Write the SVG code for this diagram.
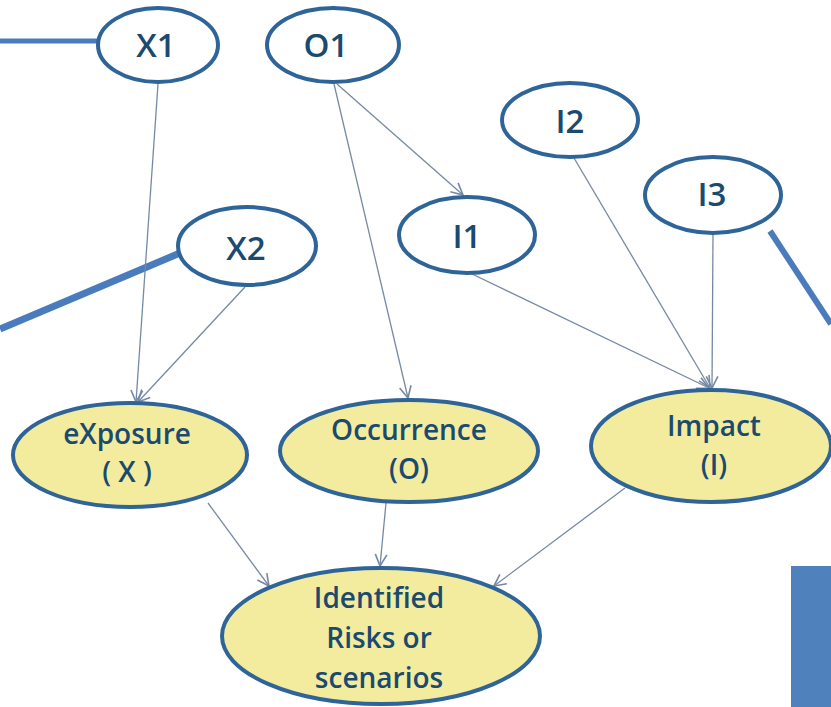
<svg xmlns="http://www.w3.org/2000/svg" width="831" height="707" viewBox="0 0 831 707">
  <style>
    .top ellipse { fill: #ffffff; stroke: #2e6498; stroke-width: 4; }
    .mid ellipse { fill: #f3ec9f; stroke: #2e6498; stroke-width: 4; }
    .lbl { font-family: "Open Sans", "Liberation Sans", sans-serif; font-weight: 600; fill: #1b4a6f; text-anchor: middle; }
    .big { font-size: 33px; }
    .small { font-size: 28px; }
    .edge { stroke: #7689a4; stroke-width: 1.3; fill: none; marker-end: url(#open); }
    .thick { stroke: #4a7cbd; fill: none; }
  </style>
  <defs>
    <marker id="open" viewBox="0 0 12 12" refX="11" refY="6" markerWidth="14" markerHeight="14" markerUnits="userSpaceOnUse" orient="auto">
      <path d="M1,1 L11,6 L1,11" fill="none" stroke="#7689a4" stroke-width="1.4"/>
    </marker>
  </defs>

  <rect width="831" height="707" fill="#ffffff"/>

  <!-- heavy side strokes and block -->
  <g id="decor">
    <line class="thick" x1="0" y1="41" x2="98" y2="41" stroke-width="5"/>
    <line class="thick" x1="180" y1="253" x2="0" y2="329" stroke-width="7"/>
    <line class="thick" x1="770" y1="231" x2="831" y2="324" stroke-width="6"/>
    <rect x="791" y="566" width="40" height="141" fill="#4f81bd"/>
  </g>

  <g id="connectors">
    <line class="edge" x1="158" y1="84" x2="136" y2="402"/>
    <line class="edge" x1="245" y1="287" x2="138" y2="402"/>
    <line class="edge" x1="334" y1="84" x2="408" y2="398"/>
    <line class="edge" x1="337" y1="84" x2="463" y2="195"/>
    <line class="edge" x1="574" y1="158" x2="710" y2="388"/>
    <line class="edge" x1="713" y1="234" x2="712" y2="388"/>
    <line class="edge" x1="470" y1="273" x2="709" y2="388"/>
    <line class="edge" x1="208" y1="503" x2="269" y2="586"/>
    <line class="edge" x1="386" y1="503" x2="380" y2="566"/>
    <line class="edge" x1="625" y1="488" x2="494" y2="586"/>
  </g>

  <g id="X1" class="top">
    <ellipse cx="158" cy="45" rx="60" ry="37"/>
    <text class="lbl big" x="156" y="57">X1</text>
  </g>
  <g id="O1" class="top">
    <ellipse cx="333" cy="45" rx="66" ry="37"/>
    <text class="lbl big" x="326" y="57">O1</text>
  </g>
  <g id="I2" class="top">
    <ellipse cx="570" cy="120" rx="68" ry="37"/>
    <text class="lbl big" x="570" y="133">I2</text>
  </g>
  <g id="I3" class="top">
    <ellipse cx="713" cy="195" rx="68" ry="38"/>
    <text class="lbl big" x="712" y="206">I3</text>
  </g>
  <g id="I1" class="top">
    <ellipse cx="467" cy="235" rx="68" ry="38"/>
    <text class="lbl big" x="467" y="248">I1</text>
  </g>
  <g id="X2" class="top">
    <ellipse cx="247" cy="246" rx="69" ry="39"/>
    <text class="lbl big" x="246" y="260">X2</text>
  </g>

  <g id="exposure" class="mid">
    <ellipse cx="130" cy="455" rx="117" ry="52"/>
    <text class="lbl small" x="127" y="444">eXposure</text>
    <text class="lbl small" x="127" y="482">( X )</text>
  </g>
  <g id="occurrence" class="mid">
    <ellipse cx="409" cy="451" rx="129" ry="51"/>
    <text class="lbl small" x="409" y="440">Occurrence</text>
    <text class="lbl small" x="409" y="479">(O)</text>
  </g>
  <g id="impact" class="mid">
    <ellipse cx="711" cy="446" rx="120" ry="56"/>
    <text class="lbl small" x="714" y="436">Impact</text>
    <text class="lbl small" x="714" y="475">(I)</text>
  </g>
  <g id="identified" class="mid">
    <ellipse cx="381" cy="636" rx="159" ry="68"/>
    <text class="lbl small" x="379" y="608">Identified</text>
    <text class="lbl small" x="379" y="648">Risks or</text>
    <text class="lbl small" x="379" y="688">scenarios</text>
  </g>
</svg>
